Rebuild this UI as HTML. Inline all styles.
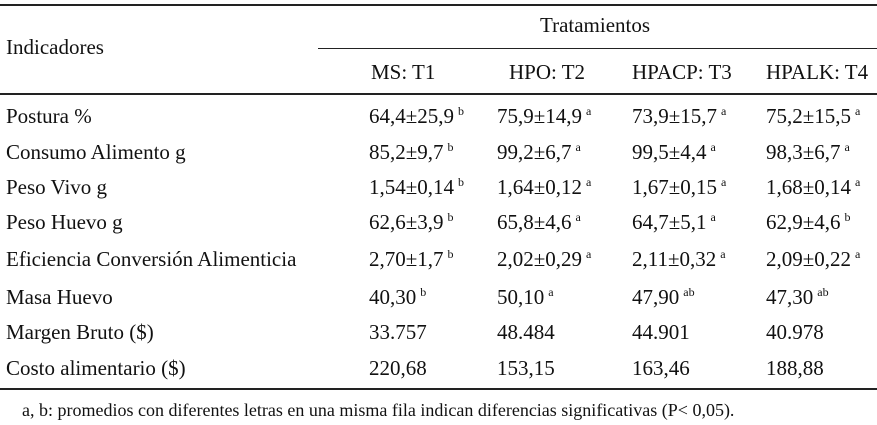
<!DOCTYPE html>
<html><head><meta charset="utf-8"><style>
body{margin:0;background:#fff;}
#t{position:relative;width:877px;height:425px;overflow:hidden;font-family:"Liberation Serif",serif;font-size:21px;color:#111;}
.c{position:absolute;white-space:nowrap;line-height:24px;height:24px;}
.l{position:absolute;background:#222;height:2px;}
sup{font-size:12px;line-height:0;vertical-align:8px;margin-left:4px;}
</style></head><body>
<div id="t">
<div class="l" style="left:0;top:4px;width:877px"></div>
<div class="l" style="left:318px;top:48px;width:559px;height:1px"></div>
<div class="l" style="left:0;top:93px;width:877px"></div>
<div class="l" style="left:0;top:388px;width:877px"></div>
<div class="c" style="left:540px;top:13px">Tratamientos</div>
<div class="c" style="left:6px;top:35px">Indicadores</div>
<div class="c" style="left:371px;top:60px">MS: T1</div>
<div class="c" style="left:509px;top:60px">HPO: T2</div>
<div class="c" style="left:632px;top:60px">HPACP: T3</div>
<div class="c" style="left:766px;top:60px">HPALK: T4</div>
<div class="c" style="left:22px;top:398px;font-size:18px">a, b: promedios con diferentes letras en una misma fila indican diferencias significativas (P&lt; 0,05).</div>
</div>
<script>
const labels=["Postura %","Consumo Alimento g","Peso Vivo g","Peso Huevo g","Eficiencia Conversión Alimenticia","Masa Huevo","Margen Bruto ($)","Costo alimentario ($)"];
const vals=[["64,4±25,9|b","75,9±14,9|a","73,9±15,7|a","75,2±15,5|a"],
["85,2±9,7|b","99,2±6,7|a","99,5±4,4|a","98,3±6,7|a"],
["1,54±0,14|b","1,64±0,12|a","1,67±0,15|a","1,68±0,14|a"],
["62,6±3,9|b","65,8±4,6|a","64,7±5,1|a","62,9±4,6|b"],
["2,70±1,7|b","2,02±0,29|a","2,11±0,32|a","2,09±0,22|a"],
["40,30|b","50,10|a","47,90|ab","47,30|ab"],
["33.757","48.484","44.901","40.978"],
["220,68","153,15","163,46","188,88"]];
const rowY=[104,140,175,210,247,285,320,356];
const colX=[369,497,632,766];
const root=document.getElementById('t');
labels.forEach((lab,i)=>{
 const d=document.createElement('div');d.className='c';
 
 
 d.style.left='6px';d.style.top=rowY[i]+'px';d.textContent=lab;root.appendChild(d);
 vals[i].forEach((v,j)=>{
  const e=document.createElement('div');e.className='c';
  
  
  e.style.left=colX[j]+'px';e.style.top=rowY[i]+'px';
  const p=v.split('|');e.textContent=p[0];
  if(p[1]){const s=document.createElement('sup');s.textContent=p[1];e.appendChild(s);}
  root.appendChild(e);
 });
});
</script>
</body></html>
